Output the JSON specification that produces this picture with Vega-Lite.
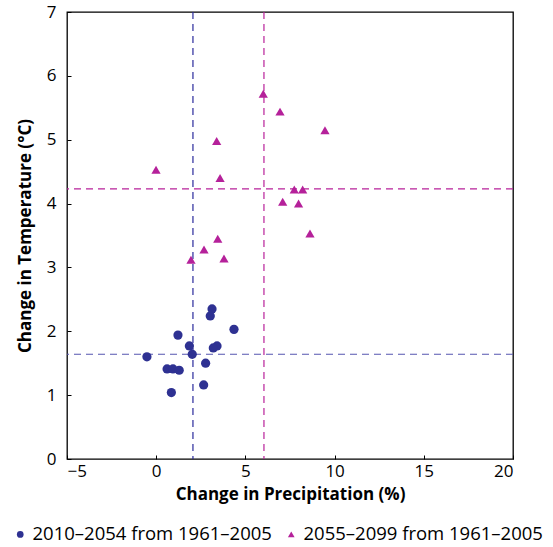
{
  "$schema": "https://vega.github.io/schema/vega-lite/v6.json",
  "width": 446,
  "height": 447,
  "autosize": {"type": "none"},
  "padding": {"left": 67, "top": 12, "right": 40, "bottom": 88},
  "background": "white",
  "config": {
    "font": "Open Sans",
    "view": {"stroke": "black", "strokeWidth": 1.3},
    "axis": {
      "grid": false,
      "domain": false,
      "tickColor": "black",
      "ticks": true,
      "tickSize": 4,
      "tickWidth": 1,
      "labelFont": "Open Sans",
      "labelFontSize": 17,
      "labelColor": "black",
      "titleFont": "Open Sans",
      "titleFontSize": 17,
      "titleFontWeight": "bold",
      "titleColor": "black"
    }
  },
  "layer": [
    {
      "data": {"values": [{"x": 2.06}]},
      "mark": {"type": "rule", "color": "#2a2a9c", "strokeDash": [7, 5], "strokeWidth": 1.2},
      "encoding": {"x": {"field": "x", "type": "quantitative", "scale": {"domain": [-5, 20], "nice": false}}}
    },
    {
      "data": {"values": [{"x": 6.04}]},
      "mark": {"type": "rule", "color": "#b8229a", "strokeDash": [7, 5], "strokeWidth": 1.2},
      "encoding": {"x": {"field": "x", "type": "quantitative"}}
    },
    {
      "data": {"values": [{"y": 1.64}]},
      "mark": {"type": "rule", "color": "#5555b0", "strokeDash": [7, 5], "strokeWidth": 1.2},
      "encoding": {"y": {"field": "y", "type": "quantitative", "scale": {"domain": [0, 7], "nice": false}}}
    },
    {
      "data": {"values": [{"y": 4.23}]},
      "mark": {"type": "rule", "color": "#b8229a", "strokeDash": [7, 5], "strokeWidth": 1.2},
      "encoding": {"y": {"field": "y", "type": "quantitative"}}
    },
    {
      "data": {
        "values": [
          {"precip": 3.13, "temp": 2.35, "period": "2010–2054 from 1961–2005"},
          {"precip": 3.03, "temp": 2.24, "period": "2010–2054 from 1961–2005"},
          {"precip": 4.36, "temp": 2.03, "period": "2010–2054 from 1961–2005"},
          {"precip": 1.22, "temp": 1.94, "period": "2010–2054 from 1961–2005"},
          {"precip": 1.86, "temp": 1.77, "period": "2010–2054 from 1961–2005"},
          {"precip": 3.41, "temp": 1.77, "period": "2010–2054 from 1961–2005"},
          {"precip": 3.2, "temp": 1.74, "period": "2010–2054 from 1961–2005"},
          {"precip": 2.02, "temp": 1.64, "period": "2010–2054 from 1961–2005"},
          {"precip": -0.52, "temp": 1.6, "period": "2010–2054 from 1961–2005"},
          {"precip": 2.77, "temp": 1.5, "period": "2010–2054 from 1961–2005"},
          {"precip": 0.61, "temp": 1.41, "period": "2010–2054 from 1961–2005"},
          {"precip": 0.94, "temp": 1.41, "period": "2010–2054 from 1961–2005"},
          {"precip": 1.29, "temp": 1.39, "period": "2010–2054 from 1961–2005"},
          {"precip": 2.66, "temp": 1.16, "period": "2010–2054 from 1961–2005"},
          {"precip": 0.85, "temp": 1.04, "period": "2010–2054 from 1961–2005"},
          {"precip": 6.0, "temp": 5.72, "period": "2055–2099 from 1961–2005"},
          {"precip": 6.94, "temp": 5.44, "period": "2055–2099 from 1961–2005"},
          {"precip": 9.46, "temp": 5.15, "period": "2055–2099 from 1961–2005"},
          {"precip": 3.39, "temp": 4.98, "period": "2055–2099 from 1961–2005"},
          {"precip": -0.01, "temp": 4.53, "period": "2055–2099 from 1961–2005"},
          {"precip": 3.58, "temp": 4.4, "period": "2055–2099 from 1961–2005"},
          {"precip": 7.74, "temp": 4.22, "period": "2055–2099 from 1961–2005"},
          {"precip": 8.21, "temp": 4.22, "period": "2055–2099 from 1961–2005"},
          {"precip": 7.09, "temp": 4.03, "period": "2055–2099 from 1961–2005"},
          {"precip": 7.98, "temp": 4.0, "period": "2055–2099 from 1961–2005"},
          {"precip": 8.62, "temp": 3.53, "period": "2055–2099 from 1961–2005"},
          {"precip": 3.45, "temp": 3.45, "period": "2055–2099 from 1961–2005"},
          {"precip": 2.68, "temp": 3.28, "period": "2055–2099 from 1961–2005"},
          {"precip": 3.8, "temp": 3.14, "period": "2055–2099 from 1961–2005"},
          {"precip": 1.95, "temp": 3.12, "period": "2055–2099 from 1961–2005"}
        ]
      },
      "mark": {"type": "point", "filled": true, "opacity": 1, "size": 85},
      "encoding": {
        "x": {
          "field": "precip", "type": "quantitative",
          "scale": {"domain": [-5, 20], "nice": false},
          "axis": {"title": "Change in Precipitation (%)", "values": [-5, 0, 5, 10, 15, 20], "format": "d", "offset": -4, "labelPadding": 4, "titlePadding": 7}
        },
        "y": {
          "field": "temp", "type": "quantitative",
          "scale": {"domain": [0, 7], "nice": false},
          "axis": {"title": "Change in Temperature (°C)", "values": [0, 1, 2, 3, 4, 5, 6, 7], "format": "d", "offset": -4, "labelPadding": 11, "titlePadding": 12}
        },
        "color": {
          "field": "period", "type": "nominal",
          "scale": {"domain": ["2010–2054 from 1961–2005", "2055–2099 from 1961–2005"], "range": ["#2e3192", "#b5219a"]},
          "legend": {
            "title": null,
            "orient": "none",
            "legendX": -56,
            "legendY": 513,
            "direction": "horizontal",
            "labelFontSize": 18.5,
            "labelFont": "Open Sans",
            "labelColor": "black",
            "labelLimit": 0,
            "symbolSize": 45,
            "columnPadding": 10,
            "labelOffset": 3
          }
        },
        "shape": {
          "field": "period", "type": "nominal",
          "scale": {"domain": ["2010–2054 from 1961–2005", "2055–2099 from 1961–2005"], "range": ["circle", "triangle-up"]},
          "legend": {
            "title": null,
            "orient": "none",
            "legendX": -56,
            "legendY": 513,
            "direction": "horizontal",
            "labelFontSize": 18.5,
            "labelFont": "Open Sans",
            "labelColor": "black",
            "labelLimit": 0,
            "symbolSize": 45,
            "columnPadding": 10,
            "labelOffset": 3
          }
        }
      }
    }
  ]
}
